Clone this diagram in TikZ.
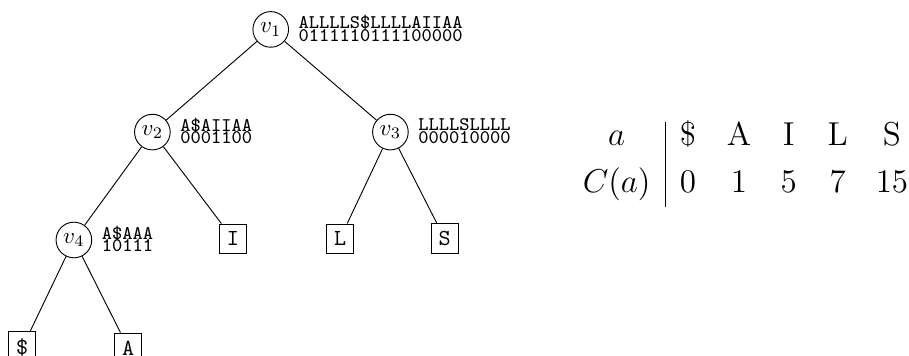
\documentclass[tikz,border=0pt]{standalone}
\newcommand\bitsfont{\ttfamily\fontsize{8.4}{5.6}\selectfont\lineskiplimit=-10pt\relax}
\tikzset{
  inner/.style={circle, draw, inner sep=1pt, minimum size=15.5pt},
  leaf/.style={draw, font=\ttfamily},
  bits/.style={anchor=west, inner sep=0pt, align=left, font=\bitsfont},
  entry/.style={anchor=base, inner sep=0pt, font=\Large},
}
\begin{document}
\begin{tikzpicture}
      \useasboundingbox (0,0) rectangle (13.9,-5.44);
      \draw
        (4.14,-0.45) node[inner] (v1){$v_1$}
        (2.33,-2.02) node[inner] (v2){$v_2$}
        (5.97,-2.02) node[inner] (v3){$v_3$}
        (1.13,-3.67) node[inner] (v4){$v_4$}
        (3.56,-3.65) node[leaf] (I){I}
        (5.20,-3.65) node[leaf] (L){L}
        (6.80,-3.65) node[leaf] (S){S}
        (0.34,-5.32) node[leaf] (dollar){\$}
        (1.96,-5.32) node[leaf] (A){A};
      \node[bits] (b1) at ([xshift=4pt,yshift=0.5pt]v1.east) {ALLLLS\$LLLLAIIAA\\0111110111100000};
      \node[bits] (b2) at ([xshift=4pt,yshift=0.5pt]v2.east) {A\$AIIAA\\0001100};
      \node[bits] (b3) at ([xshift=4pt,yshift=0.5pt]v3.east) {LLLLSLLLL\\000010000};
      \node[bits] (b4) at ([xshift=4pt,yshift=0.5pt]v4.east) {A\$AAA\\10111};
      \begin{scope}[-]
        \draw (v1) to (v2);
        \draw (v1) to (v3);
        \draw (v2) to (v4);
        \draw (v2) to (I);
        \draw (v3) to (L);
        \draw (v3) to (S);
        \draw (v4) to (dollar);
        \draw (v4) to (A);
      \end{scope}
      % table C(a)
      \draw
        (9.43,-2.23) node[entry] (ha){$a$}
        (10.52,-2.23) node[entry] (h1){\$}
        (11.30,-2.23) node[entry] (h2){A}
        (12.06,-2.23) node[entry] (h3){I}
        (12.81,-2.23) node[entry] (h4){L}
        (13.64,-2.23) node[entry] (h5){S}
        (9.43,-2.95) node[entry] (ca){$C(a)$}
        (10.52,-2.95) node[entry] (c1){0}
        (11.30,-2.95) node[entry] (c2){1}
        (12.06,-2.95) node[entry] (c3){5}
        (12.81,-2.95) node[entry] (c4){7}
        (13.64,-2.95) node[entry] (c5){15};
      \coordinate (top) at (10.17,-1.87);
      \coordinate (bot) at (10.17,-3.17);
      \draw (top) -- (bot);
    \end{tikzpicture}
\end{document}
